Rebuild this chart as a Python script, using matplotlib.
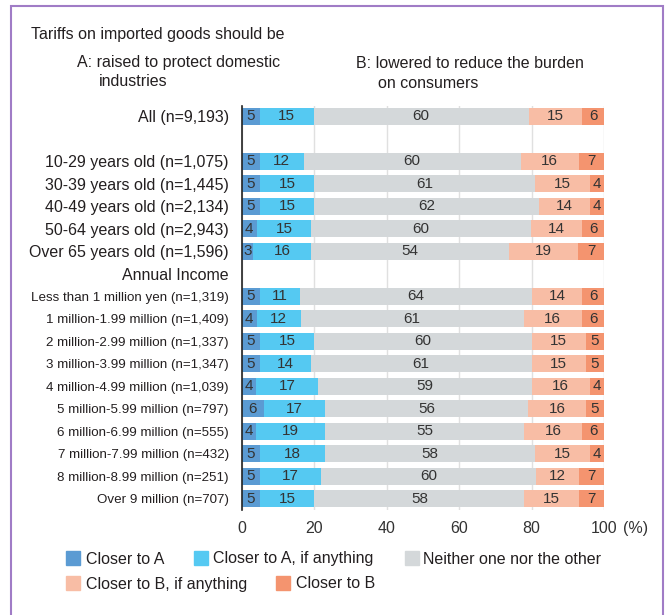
import numpy as np
import matplotlib
matplotlib.use("Agg")
import matplotlib.pyplot as plt
from matplotlib.patches import Rectangle
from matplotlib import font_manager

plt.rcParams['font.family'] = ['Liberation Sans', 'DejaVu Sans']

row_labels = [
    "All (n=9,193)", "",
    "10-29 years old (n=1,075)", "30-39 years old (n=1,445)",
    "40-49 years old (n=2,134)", "50-64 years old (n=2,943)",
    "Over 65 years old (n=1,596)", "Annual Income",
    "Less than 1 million yen (n=1,319)", "1 million-1.99 million (n=1,409)",
    "2 million-2.99 million (n=1,337)", "3 million-3.99 million (n=1,347)",
    "4 million-4.99 million (n=1,039)", "5 million-5.99 million (n=797)",
    "6 million-6.99 million (n=555)", "7 million-7.99 million (n=432)",
    "8 million-8.99 million (n=251)", "Over 9 million (n=707)",
]
header_rows = ["", "Annual Income"]

series_names = ["Closer to A", "Closer to A, if anything", "Neither one nor the other",
                "Closer to B, if anything", "Closer to B"]
closer_a     = [5, 5, 5, 5, 4, 3, 5, 4, 5, 5, 4, 6, 4, 5, 5, 5]
closer_a_any = [15, 12, 15, 15, 15, 16, 11, 12, 15, 14, 17, 17, 19, 18, 17, 15]
neither      = [60, 60, 61, 62, 60, 54, 64, 61, 60, 61, 59, 56, 55, 58, 60, 58]
closer_b_any = [15, 16, 15, 14, 14, 19, 14, 16, 15, 15, 16, 16, 16, 15, 12, 15]
closer_b     = [6, 7, 4, 4, 6, 7, 6, 6, 5, 5, 4, 5, 6, 4, 7, 7]
colors = ["#5b9bd3", "#55c9f2", "#d4d8da", "#f8bda5", "#f4946f"]
xticks = [0, 20, 40, 60, 80, 100]

available = {f.name for f in font_manager.fontManager.ttflist}
if "Liberation Sans Narrow" in available:
    income_family, income_size = ["Liberation Sans Narrow", "DejaVu Sans"], 11.3
else:
    income_family, income_size = ["Liberation Sans", "DejaVu Sans"], 9.6

TXT = "#231f20"
fig = plt.figure(figsize=(6.69, 6.15), dpi=100)
W, H = 669, 615
ax = fig.add_axes([242 / W, 1 - 510 / H, (604 - 242) / W, (510 - 106) / H])

positions = [i for i, l in enumerate(row_labels) if l not in header_rows]
data = np.array([closer_a, closer_a_any, neither, closer_b_any, closer_b], dtype=float)
totals = data.sum(axis=0)
widths = data / totals * 100
left = np.zeros(len(positions))
for k in range(len(series_names)):
    ax.barh(positions, widths[k], left=left, height=0.76, color=colors[k],
            label=series_names[k], zorder=2)
    for p, l0, w, v in zip(positions, left, widths[k], data[k]):
        ax.text(l0 + w / 2, p, f"{int(v)}", ha="center", va="center",
                fontsize=11, color="#333333", zorder=3)
    left += widths[k]

ax.set_ylim(len(row_labels) - 0.5, -0.45)
ax.set_xlim(0, 100)
ax.set_yticks(range(len(row_labels)))
ax.set_yticklabels(row_labels)
for i, t in enumerate(ax.get_yticklabels()):
    if i < 8:
        t.set_fontsize(11.5)
    else:
        t.set_fontfamily(income_family)
        t.set_fontsize(income_size)
    t.set_color(TXT)
ax.set_xticks(xticks)
ax.set_xticklabels([str(x) for x in xticks], fontsize=11.5, color="#333333")
ax.tick_params(axis="both", length=0)
ax.tick_params(axis="y", pad=9.5)
ax.tick_params(axis="x", pad=8)
ax.grid(axis="x", color="#e0e0e0", linewidth=1, zorder=0)
for s in ["top", "right", "bottom"]:
    ax.spines[s].set_visible(False)
ax.spines["left"].set_color("#222222")
ax.spines["left"].set_linewidth(1.2)
ax.spines["left"].set_zorder(4)
fig.text(623 / W, 1 - 529 / H, "(%)", ha="left", va="center", fontsize=11.5, color="#333333")

fig.text(31 / W, 1 - 35 / H, "Tariffs on imported goods should be", fontsize=11.5, color=TXT, va="center")
fig.text(77 / W, 1 - 63 / H, "A: raised to protect domestic", fontsize=11.5, color=TXT, va="center")
fig.text(99 / W, 1 - 82 / H, "industries", fontsize=11.5, color=TXT, va="center")
fig.text(356 / W, 1 - 63 / H, "B: lowered to reduce the burden", fontsize=11.5, color=TXT, va="center")
fig.text(378 / W, 1 - 83 / H, "on consumers", fontsize=11.5, color=TXT, va="center")

# legend (flow layout)
legend_items = [
    (0, 66, 86, 0), (1, 194, 213, 0), (2, 405, 423, 0),
    (3, 66, 86, 1), (4, 276, 296, 1),
]
for k, bx, tx, r in legend_items:
    yc = 558 + r * 25
    fig.patches.append(Rectangle((bx / W, 1 - (yc + 7) / H), 14 / W, 14 / H,
                                 transform=fig.transFigure, color=colors[k]))
    fig.text(tx / W, 1 - (yc + 5.5) / H, series_names[k], fontsize=11.5, color=TXT, va="baseline")

# purple frame
fig.patches.append(Rectangle((10.5 / W, -0.05), 652 / W, 1.05 - 6 / H, transform=fig.transFigure,
                             fill=False, edgecolor="#a07cc6", linewidth=1.5, clip_on=False))

fig.savefig("out.png", dpi=100)
